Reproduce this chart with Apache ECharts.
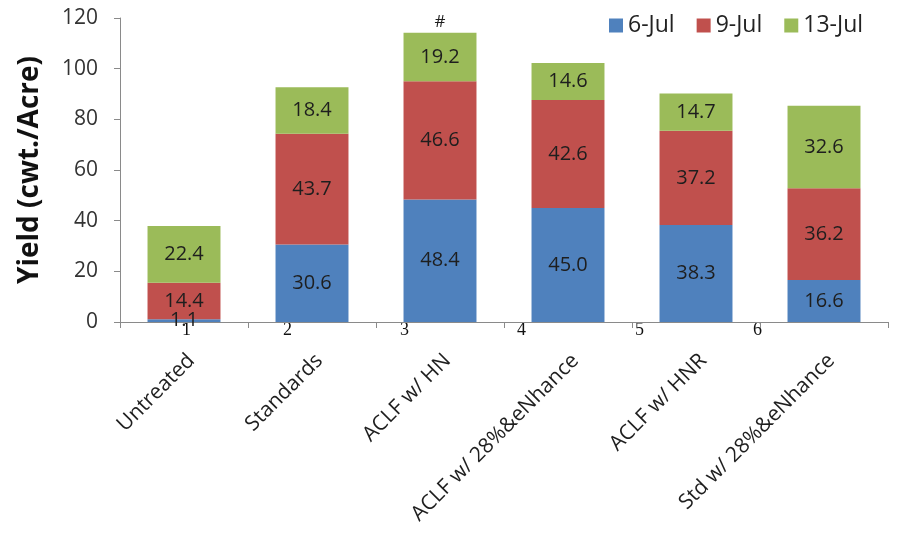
<!DOCTYPE html>
<html>
<head>
<meta charset="utf-8">
<script src="https://cdn.jsdelivr.net/npm/echarts@6/dist/echarts.min.js"></script>
<style>
  html, body { margin: 0; padding: 0; background: #fff; }
  #chart { width: 899px; height: 534px; }
</style>
</head>
<body>
<div id="chart"></div>
<script>
// Treatments along the x axis
const treatments = ['Untreated', 'Standards', 'ACLF w/ HN', 'ACLF w/ 28%&eNhance', 'ACLF w/ HNR', 'Std w/ 28%&eNhance'];

// Yield per harvest date (cwt./Acre)
const harvestDates = ['6-Jul', '9-Jul', '13-Jul'];
const jul6 = [1.1, 30.6, 48.4, 45.0, 38.3, 16.6];
const jul9 = [14.4, 43.7, 46.6, 42.6, 37.2, 36.2];
const jul13 = [22.4, 18.4, 19.2, 14.6, 14.7, 32.6];

// Treatment numbers printed under the axis
const treatmentNumbers = ['1', '2', '3', '4', '5', '6'];
// Treatment flagged with "#"
const flaggedTreatment = 'ACLF w/ HN';

// y axis ticks
const yMin = 0, yMax = 120, yStep = 20;

const colors = ['#4F81BD', '#C0504D', '#9BBB59'];
const font = '"Open Sans", "Noto Sans", sans-serif';

const chart = echarts.init(document.getElementById('chart'), null, { renderer: 'canvas' });

const seriesData = [jul6, jul9, jul13];

const flagIndex = treatments.indexOf(flaggedTreatment);
const flagTotal = jul6[flagIndex] + jul9[flagIndex] + jul13[flagIndex];

const series = harvestDates.map((name, i) => ({
  name: name,
  type: 'bar',
  stack: 'yield',
  barWidth: '57%',
  data: seriesData[i],
  itemStyle: { color: colors[i] },
  label: {
    show: true,
    position: 'inside',
    formatter: p => p.value.toFixed(1),
    fontFamily: font,
    fontSize: 20,
    color: '#1e1e1e'
  },
  markPoint: i === 2 ? {
    symbol: 'circle',
    symbolSize: 1,
    itemStyle: { color: 'rgba(0,0,0,0)' },
    label: {
      show: true,
      position: 'top',
      distance: 2,
      formatter: '#',
      fontFamily: font,
      fontSize: 17,
      color: '#1e1e1e'
    },
    data: [{ coord: [flaggedTreatment, flagTotal] }]
  } : undefined
}));

const option = {
  animation: false,
  color: colors,
  legend: {
    data: harvestDates,
    left: 604,
    top: 9,
    itemWidth: 14,
    itemHeight: 14,
    itemGap: 22,
    icon: 'rect',
    textStyle: { fontFamily: font, fontSize: 23, color: '#222' }
  },
  grid: { left: 120, right: 11, top: 18, bottom: 212, containLabel: false },
  xAxis: {
    type: 'category',
    data: treatments,
    axisLine: { lineStyle: { color: '#8a8a8a', width: 1 } },
    axisTick: { show: true, length: 6, lineStyle: { color: '#8a8a8a' } },
    axisLabel: {
      rotate: 45,
      interval: 0,
      margin: 28,
      verticalAlign: 'top',
      fontFamily: font,
      fontSize: 21,
      color: '#1e1e1e'
    }
  },
  yAxis: {
    type: 'value',
    min: yMin,
    max: yMax,
    interval: yStep,
    name: 'Yield (cwt./Acre)',
    nameLocation: 'middle',
    nameGap: 76,
    nameTextStyle: { fontFamily: font, fontSize: 28, fontWeight: 'bold', color: '#111' },
    axisLine: { show: true, lineStyle: { color: '#8a8a8a', width: 1 } },
    axisTick: { show: true, length: 6, lineStyle: { color: '#8a8a8a' } },
    splitLine: { show: false },
    axisLabel: { fontFamily: font, fontSize: 21, color: '#333', margin: 22 }
  },
  series: series
};

chart.setOption(option);

// Treatment numbers sit just under the x axis, placed from the axis scale
const numberX = [187, 288, 405, 522, 640, 758];
const axisY = chart.convertToPixel({ yAxisIndex: 0 }, yMin);
chart.setOption({
  graphic: treatmentNumbers.map((t, i) => ({
    type: 'text',
    left: numberX[i] - 5,
    top: axisY - 1,
    silent: true,
    style: {
      text: t,
      font: '18px "Liberation Serif", "DejaVu Serif", serif',
      fill: '#111'
    }
  }))
});
</script>
</body>
</html>
